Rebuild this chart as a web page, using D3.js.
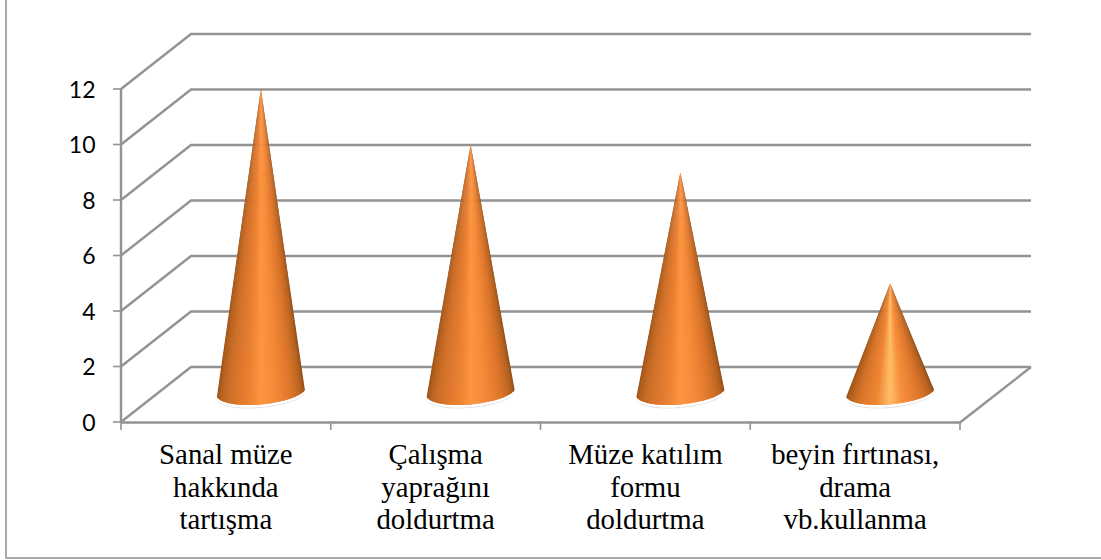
<!DOCTYPE html>
<html><head><meta charset="utf-8">
<script src="https://cdnjs.cloudflare.com/ajax/libs/d3/7.8.5/d3.min.js"></script>
<style>html,body{margin:0;padding:0;background:#fff}svg{display:block}</style>
</head><body><svg id="c" width="1101" height="560"></svg>
<script>
const categories = [["Sanal müze","hakkında","tartışma"],["Çalışma","yaprağını","doldurtma"],["Müze katılım","formu","doldurtma"],["beyin fırtınası,","drama","vb.kullanma"]];
const values = [11, 9, 8, 4];
const ticks = [0,2,4,6,8,10,12];

const svg = d3.select("#c");
const grey = "#939393";
const depth = {x:70, y:-55};
const x = d3.scaleBand().domain(d3.range(categories.length)).range([121,960]);
const y = d3.scaleLinear().domain([0,12]).range([422,89]);

// frame: only the left and bottom edges are visible
svg.append("path").attr("fill","none").attr("stroke","#a8a8a8").attr("stroke-width",2)
  .attr("d",d3.line()([[6,0],[6,558],[1101,558]]));

const g = svg.append("g").attr("fill","none").attr("stroke",grey);
ticks.forEach(t=>{
  g.append("path").attr("stroke-width",2.4)
   .attr("d",d3.line()([[x.range()[0],y(t)],[x.range()[0]+depth.x,y(t)+depth.y],[1031,y(t)+depth.y]]));
  g.append("line").attr("stroke-width",1.6).attr("x1",113).attr("x2",121).attr("y1",y(t)).attr("y2",y(t));
});
g.append("path").attr("stroke-width",2.4).attr("d",d3.line()([[121,y(0)+0.5],[960,y(0)+0.5],[1031,y(0)+depth.y]]));
g.append("line").attr("stroke-width",2.4).attr("x1",121).attr("x2",121).attr("y1",y(12)).attr("y2",y(0));
d3.range(categories.length+1).forEach(i=>{
  const px = i<categories.length? x(i):x.range()[1];
  g.append("line").attr("stroke-width",1.6).attr("x1",px).attr("x2",px).attr("y1",y(0)).attr("y2",y(0)+8);
});

// cones: conic shading, slices fan out from the apex to the tilted base curve
const shade = d3.scaleLinear()
  .domain([0,.08,.2,.38,.5,.62,.8,.93,1])
  .range(["#9a5219","#b4611f","#cf7029","#e97f32","#fc9540","#f58b39","#d87329","#b0601f","#8a4a18"]);
const shadeSmall = d3.scaleLinear()
  .domain([0,.08,.2,.38,.5,.6,.8,.93,1])
  .range(["#9a5219","#b4611f","#d57329","#f08634","#ffbf68","#f8903c","#d87329","#b0601f","#8a4a18"]);
const rx = 44, tilt = 3.5, N = 60;
function bez(p0,p1,p2,p3,t){const u=1-t;return u*u*u*p0+3*u*u*t*p1+3*u*t*t*p2+t*t*t*p3;}
values.forEach((v,i)=>{
  const cx = x(i)+x.bandwidth()/2+depth.x/2;
  const by = y(0)+depth.y/2-1;
  const top = y(v)+depth.y/2;
  const pt = t=>[bez(cx-rx,cx-rx+10,cx+rx-10,cx+rx,t), bez(by+tilt,by+18,by+11,by-tilt,t)];
  const gr = svg.append("g");
  const curve = d3.range(N+1).map(k=>pt(k/N));
  const rim = d3.line();
  gr.append("path").attr("d",rim(curve)).attr("fill","none").attr("stroke","#d4d4d4").attr("stroke-width",0.8).attr("transform","translate(0,3)");
  gr.append("path").attr("d",rim(curve)).attr("fill","none").attr("stroke","#fff").attr("stroke-width",3).attr("stroke-linecap","round").attr("transform","translate(0,1)");
  const col = i===3 ? shadeSmall : shade;
  const mid = N/2;
  const order = d3.range(N).sort((a,b)=>Math.abs(b+.5-mid)-Math.abs(a+.5-mid));
  order.forEach(k=>{
    const c = col((k+.5)/N);
    const a = k<mid ? k : k-1, b = k<mid ? k+2 : k+1;
    const pts = [[cx,top]];
    for(let q=a;q<=b;q++) pts.push(pt(q/N));
    gr.append("path").attr("d",d3.line()(pts)+"Z").attr("fill",c);
  });
});

svg.append("g").selectAll("text").data(ticks).join("text")
  .attr("x",95.5).attr("y",d=>y(d)+8.5)
  .attr("text-anchor","end").attr("font-family","Lato, 'Open Sans', sans-serif").attr("font-size",23).attr("fill","#000")
  .text(d=>d);
categories.forEach((c,i)=>{
  svg.append("text").attr("text-anchor","middle").attr("font-family","'Liberation Serif', serif").attr("font-size",28.8).attr("fill","#000")
   .selectAll("tspan").data(c).join("tspan").attr("x",x(i)+x.bandwidth()/2).attr("y",(d,j)=>464+j*32.5).text(d=>d);
});
</script></body></html>
